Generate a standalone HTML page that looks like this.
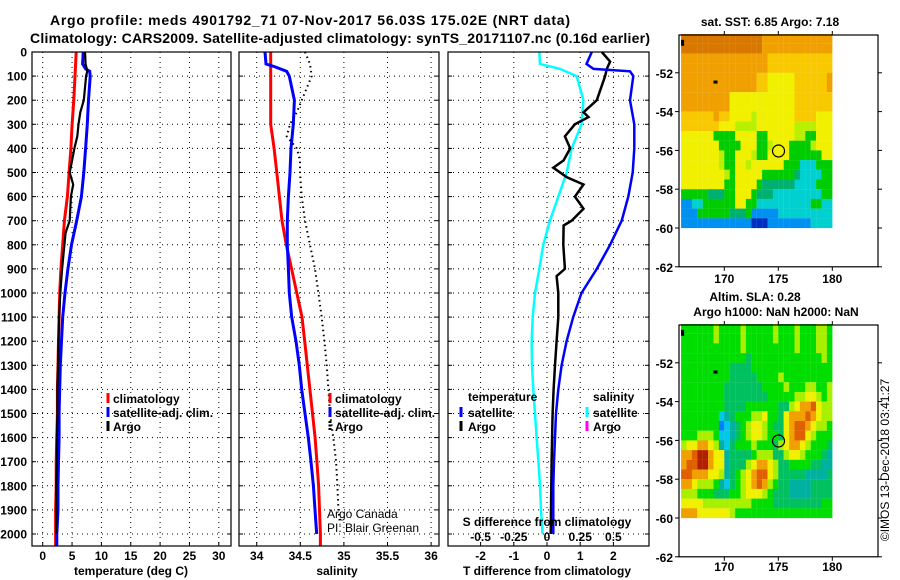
<!DOCTYPE html>
<html><head><meta charset="utf-8"><style>
html,body{margin:0;padding:0;background:#fff;}
svg{display:block;font-family:"Liberation Sans",sans-serif;}
.b{font-weight:bold;font-size:12px;}
</style></head><body>
<svg id="c" width="900" height="580" viewBox="0 0 900 580">
<text x="310" y="25" text-anchor="middle" font-weight="bold" font-size="14" textLength="520">Argo profile: meds 4901792_71 07-Nov-2017 56.03S 175.02E (NRT data)</text>
<text x="340" y="43" text-anchor="middle" font-weight="bold" font-size="14" textLength="620">Climatology: CARS2009. Satellite-adjusted climatology: synTS_20171107.nc (0.16d earlier)</text>
<g id="g"></g>
<text x="724.3" y="571" text-anchor="middle" class="b">170</text>
<text x="778.3" y="571" text-anchor="middle" class="b">175</text>
<text x="832.3" y="571" text-anchor="middle" class="b">180</text>
</svg>
<script>
// ---- data ----
const tempDepth=[0,100,200,300,400,500,600,700,800,900,1000,1100,1200,1300,1400,1500,1600,1700,1800,1900,2000,2050];
const tempClim=[5.7,5.5,5.3,5.0,4.8,4.5,4.2,3.7,3.4,3.1,2.9,2.8,2.7,2.6,2.5,2.5,2.4,2.3,2.3,2.2,2.2,2.2];
const tempSatDepth=[0,50,70,80,100,200,300,400,500,600,700,800,900,1000,1100,1200,1300,1400,1500,1600,1700,1800,1900,2000,2050];
const tempSat=[6.9,6.8,7.3,8.0,8.1,7.8,7.6,7.3,7.0,6.6,5.8,4.9,4.3,3.8,3.4,3.2,3.0,2.9,2.8,2.8,2.7,2.6,2.6,2.4,2.4];
const tempArgoDepth=[0,50,80,100,200,250,300,350,400,450,500,550,600,650,700,750,800,900,1000,1100,1200,1300,1400,1500,1600,1700,1800,1900,2000];
const tempArgo=[7.2,7.3,7.6,7.4,7.0,6.4,6.1,5.9,5.4,5.0,4.6,5.2,4.8,4.7,4.6,3.9,3.7,3.3,3.0,2.8,2.7,2.6,2.5,2.5,2.4,2.4,2.3,2.3,2.3];

const salDepth=[0,100,200,300,400,500,600,700,800,900,1000,1100,1200,1300,1400,1500,1600,1700,1800,1900,2000,2050];
const salClim=[34.16,34.16,34.16,34.16,34.20,34.23,34.26,34.29,34.34,34.40,34.46,34.52,34.55,34.58,34.61,34.64,34.67,34.69,34.71,34.72,34.73,34.73];
const salSatDepth=[0,50,60,80,100,200,300,400,500,600,700,800,900,1000,1100,1200,1300,1400,1500,1600,1700,1800,1900,2000];
const salSat=[34.095,34.107,34.2,34.344,34.374,34.432,34.42,34.393,34.382,34.363,34.351,34.351,34.363,34.374,34.401,34.451,34.489,34.516,34.554,34.592,34.623,34.65,34.669,34.688];
const salArgoDepth=[0,50,100,200,250,300,350,400,450,500,600,700,800,900,1000,1100,1200,1300,1400,1500,1600,1700,1800,1900,1960];
const salArgo=[34.554,34.611,34.631,34.516,34.46,34.382,34.344,34.46,34.497,34.497,34.516,34.554,34.611,34.669,34.707,34.745,34.776,34.803,34.822,34.84,34.879,34.91,34.925,34.937,34.956];

const dTSatDepth=[0,50,70,80,100,200,300,400,500,600,700,800,900,1000,1100,1200,1300,1400,1500,1600,1700,1800,1900,2000];
const dTSat=[1.35,1.19,1.40,2.50,2.60,2.50,2.63,2.63,2.58,2.45,2.25,1.90,1.50,1.04,0.79,0.59,0.44,0.34,0.27,0.24,0.21,0.19,0.19,0.19];
const dTArgoDepth=[0,40,70,100,200,250,270,300,350,400,450,480,520,550,600,650,700,720,800,900,930,1000,1100,1200,1300,1400,1500,1700,2000];
const dTArgo=[1.65,1.9,1.8,1.75,1.5,1.1,1.25,0.84,0.54,0.7,0.5,0.19,0.6,1.1,0.84,1.1,0.74,0.5,0.49,0.54,0.29,0.34,0.34,0.29,0.24,0.2,0.17,0.14,0.11];
const dSSatDepth=[0,50,70,100,200,300,350,400,500,600,700,800,900,1000,1100,1200,1300,1400,1500,1600,1700,1800,1900,2000];
const dSSat=[-0.058,-0.053,0.098,0.224,0.274,0.26,0.224,0.186,0.148,0.085,0.022,-0.028,-0.058,-0.09,-0.108,-0.115,-0.113,-0.103,-0.09,-0.078,-0.065,-0.053,-0.045,-0.033];

const depthTicks=[0,100,200,300,400,500,600,700,800,900,1000,1100,1200,1300,1400,1500,1600,1700,1800,1900,2000];
const tempTicks=[0,5,10,15,20,25,30];
const salTicks=[34,34.5,35,35.5,36];
const dTTicks=[-2,-1,0,1,2];
const dSTicks=[-0.5,-0.25,0,0.25,0.5];
const dSTickLabels=["-0.5","-0.25","0","0.25","0.5"];
const latTicks=[-52,-54,-56,-58,-60,-62];
const lonTicks=[170,175,180];

const sstRows=[
"9999999999999998888888888888","9999999999999998888888888888",
"8888888888888888777777777777","8888888888888888777777777777",
"8888888888888877666667777778","8888888888888877666667777778",
"8888888886666666666667777777","8888888886666666666667777777",
"7777778776666566666667777666","7777777666555566666665555666",
"6666664444666644666665544666","6666666444466644566644445666",
"6666666544666544666644444466","6666666544665666666444222444",
"6666666654666664444443222244","6666666644666643333332222444",
"4444433344666433322222222244","1122444444664422222222224422",
"1114444443334111112222222222","1111111111111000111111112222"];
const sstColors=["#0030c0","#0090f0","#00d0d0","#00b070","#00cc00","#b8f000","#f0f000","#f8c800","#f0a000","#d87800"];
const slaRows=[
"4444445444454444454445444554","4444445444454444454445444554",
"4444444444454444444445444554","4444444444443444444444444454",
"4444444443333444444444444444","4444444443333344445444444444",
"4444444433333334444544455445","4444444433333333444445566545",
"4444444433334444443356778655","4444444123444556443677787655",
"4444444012345665433678876554","4445554112345665443678865444",
"5667765213444544435677654443","7789976623333455533566544432",
"7889976623335677653344443322","8877766523456788653333322223",
"7765554213456787543322223333","5554443334456665433322223333",
"6666555555555444433333333344","7776666665444444444444444444"];
const slaColors=["#0080ff","#00c8e8","#00b0a0","#00c060","#00dd00","#a8f000","#f0f000","#f0a000","#e06000","#b02000"];

// ---- drawing ----
const NS="http://www.w3.org/2000/svg";
const G=document.getElementById('g');
function mk(tag,attrs,parent){const e=document.createElementNS(NS,tag);for(const k in attrs)e.setAttribute(k,attrs[k]);(parent||G).appendChild(e);return e;}
function txt(x,y,s,cls,anchor,parent){const t=mk('text',{x:x,y:y,'text-anchor':anchor||'middle','class':cls||'b'},parent);t.textContent=s;return t;}
const yD=d=>52+d*0.241;
const PB=546;

function panel(name,x0,x1){
  const g=mk('g',{});
  
  
  depthTicks.forEach(d=>{
    const l=mk('line',{x1:x0,x2:x1,y1:yD(d),y2:yD(d),stroke:'#000','stroke-width':1,'stroke-dasharray':'1,4'},g);
    
    
    mk('line',{x1:x0,x2:x0+4,y1:yD(d),y2:yD(d),stroke:'#000'},g);
    mk('line',{x1:x1-4,x2:x1,y1:yD(d),y2:yD(d),stroke:'#000'},g);
  });
  return g;
}
function vgrid(g,xs){xs.forEach(x=>{
  const l=mk('line',{x1:x,x2:x,y1:52,y2:PB,stroke:'#000','stroke-dasharray':'1,4'},g);
  
  
  mk('line',{x1:x,x2:x,y1:PB-4,y2:PB,stroke:'#000'},g);});}
function frame(g,x0,x1){const r=mk('rect',{x:x0,y:52,width:x1-x0,height:PB-52,fill:'none',stroke:'#000','stroke-width':1.2},g);
  }
function line(g,xs,ds,fx,color,w,name,dash){
  const pts=xs.map((v,i)=>fx(v).toFixed(1)+','+yD(ds[i]).toFixed(1)).join(' ');
  const a={points:pts,fill:'none',stroke:color,'stroke-width':w,'stroke-linejoin':'miter'};
  if(dash)a['stroke-dasharray']=dash;
  const p=mk('polyline',a,g);
  
  
}
function legMark(g,x,y,color,name,dash){
  const a={x1:x,x2:x,y1:y-10,y2:y,stroke:color,'stroke-width':3};
  if(dash)a['stroke-dasharray']=dash;
  const l=mk('line',a,g);
  
  
}

const xT=t=>42.7+t*5.87;
const p1=panel('temperature-panel',32,231);
vgrid(p1,tempTicks.map(xT));
depthTicks.forEach(d=>{const t=txt(27,yD(d)+4.5,String(d),'b','end',p1);});
tempTicks.forEach(v=>{const t=txt(xT(v),560,String(v),'b','middle',p1);});
line(p1,tempClim,tempDepth,xT,'#ff0000',3,'temperature-climatology-line');
line(p1,tempSat,tempSatDepth,xT,'#0000ff',3,'temperature-satellite-line');
line(p1,tempArgo,tempArgoDepth,xT,'#000',2.2,'temperature-argo-line');
frame(p1,32,231);
{const t=txt(131,575,'temperature (deg C)','b','middle',p1);}
legMark(p1,108,403,'#ff0000','legend-climatology-marker');txt(113,403,'climatology','b','start',p1);
legMark(p1,108,417,'#0000ff','legend-satellite-marker');txt(113,417,'satellite-adj. clim.','b','start',p1);
legMark(p1,108,431,'#000','legend-argo-marker');txt(113,431,'Argo','b','start',p1);

const xS=s=>256.7+(s-34)*87.2;
const p2=panel('salinity-panel',239,439);
vgrid(p2,salTicks.map(xS));
salTicks.forEach(v=>{const t=txt(xS(v),560,String(v),'b','middle',p2);});
line(p2,salClim,salDepth,xS,'#ff0000',3,'salinity-climatology-line');
line(p2,salSat,salSatDepth,xS,'#0000ff',3,'salinity-satellite-line');
line(p2,salArgo,salArgoDepth,xS,'#000',2,'salinity-argo-line','1.5,3.5');
frame(p2,239,439);
{const t=txt(337,575,'salinity','b','middle',p2);}
legMark(p2,330,403,'#ff0000','legend-climatology-marker');txt(335,403,'climatology','b','start',p2);
legMark(p2,330,417,'#0000ff','legend-satellite-marker');txt(335,417,'satellite-adj. clim.','b','start',p2);
legMark(p2,330,431,'#000','legend-argo-marker','2,1.5');txt(335,431,'Argo','b','start',p2);
{const t=mk('text',{x:327,y:518,'font-size':12},p2);t.textContent='Argo Canada';}
{const t=mk('text',{x:327,y:532,'font-size':12},p2);t.textContent='PI: Blair Greenan';}

const xDT=t=>547+t*33.2;
const xDS=s=>547+s*132.8;
const p3=panel('difference-panel',448,649);
vgrid(p3,dTTicks.map(xDT));
dTTicks.forEach(v=>{const t=txt(xDT(v),560,String(v),'b','middle',p3);});
dSTicks.forEach((v,i)=>{const t=txt(xDS(v),541,dSTickLabels[i],'b','middle',p3);});
line(p3,dSSat,dSSatDepth,xDS,'#00ffff',2.5,'salinity-diff-satellite-line');
line(p3,dTArgo,dTArgoDepth,xDT,'#000',2.5,'temperature-diff-argo-line');
line(p3,dTSat,dTSatDepth,xDT,'#0000ff',2.5,'temperature-diff-satellite-line');
frame(p3,448,649);
{const t=txt(547,526,'S difference from climatology','b','middle',p3);}
{const t=txt(547,575,'T difference from climatology','b','middle',p3);}
txt(468,401,'temperature','b','start',p3);
legMark(p3,461,417,'#0000ff','legend-t-satellite-marker');txt(468,417,'satellite','b','start',p3);
legMark(p3,461,431,'#000','legend-t-argo-marker');txt(468,431,'Argo','b','start',p3);
txt(593,401,'salinity','b','start',p3);
legMark(p3,587,417,'#00ffff','legend-s-satellite-marker');txt(593,417,'satellite','b','start',p3);
legMark(p3,587,431,'#ff00ff','legend-s-argo-marker');txt(593,431,'Argo','b','start',p3);

function map(name,top,rows,colors,titles,lonLabels){
  const g=mk('g',{});
  
  
  const lx=lon=>724.3+(lon-170)*10.8;
  const ly=lat=>top+(-50-lat)*19.4;
  rows.forEach((row,r)=>{for(let c=0;c<row.length;c++){
    const lon=166+c*0.5, lat=-50-r*0.5;
    const x=lx(lon), y=ly(lat);
    const cell=mk('rect',{x:x.toFixed(2),y:y.toFixed(2),width:5.5,height:9.8,fill:colors[+row[c]]},g);
    
    
  }});
  const x0=679,x1=878,y0=top+1,y1=ly(-62);
  const f=mk('rect',{x:x0,y:y0,width:x1-x0,height:y1-y0,fill:'none',stroke:'#000','stroke-width':1.2},g);
  
  latTicks.forEach(l=>{const y=ly(l);mk('line',{x1:x0-4,x2:x0,y1:y,y2:y,stroke:'#000'},g);mk('line',{x1:x1,x2:x1+4,y1:y,y2:y,stroke:'#000'},g);
    const t=txt(673,y+5,String(l),'b','end',g);});
  lonTicks.forEach(l=>{const x=lx(l);mk('line',{x1:x,x2:x,y1:y1,y2:y1+4,stroke:'#000'},g);mk('line',{x1:x,x2:x,y1:y0-4,y2:y0,stroke:'#000'},g);
    if(lonLabels){const t=txt(x,y1+16,String(l),'b','middle',g);}});
  const c=mk('circle',{cx:lx(175.02),cy:ly(-56.03),r:6,fill:'none',stroke:'#000','stroke-width':1.2},g);
  
  mk('rect',{x:lx(166),y:ly(-50.3),width:3,height:6,fill:'#000'},g);
  mk('rect',{x:lx(169),y:ly(-52.4),width:4,height:3,fill:'#000'},g);
  titles.forEach(t=>{const e=txt(t[0],t[1],t[2],'b','middle',g);});
}
map('sst-map',34,sstRows,sstColors,[[770,26,'sat. SST: 6.85 Argo: 7.18']],true);
map('sla-map',324,slaRows,slaColors,[[755,301,'Altim. SLA: 0.28'],[776,316,'Argo h1000: NaN h2000: NaN']],false);
{const t=mk('text',{x:0,y:0,'font-size':12,transform:'translate(889,460) rotate(-90)','text-anchor':'middle'});t.textContent='©IMOS 13-Dec-2018 03:41:27';
}
</script>
</body></html>
